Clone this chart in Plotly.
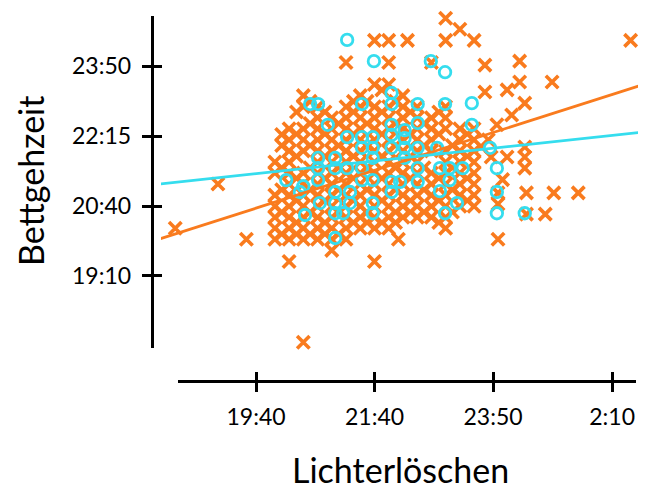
import plotly.graph_objects as go

ORANGE = "#F97B1E"
CYAN = "#35DDEE"
FONT = "Lato"

# ---- tick labels (values in decimal hours) ----
x_tick_vals = [19.67, 21.75, 23.83, 25.92]
x_tick_text = ["19:40", "21:40", "23:50", "2:10"]
y_tick_vals = [19.17, 20.75, 22.33, 23.92]
y_tick_text = ["19:10", "20:40", "22:15", "23:50"]

# ---- orange series (x markers): lights-out hour -> list of bedtime hours ----
orange_columns = {
    20.00: [20.0, 20.25, 20.5, 20.75, 21.0, 21.5, 21.75],
    20.25: [19.5, 20.0, 20.25, 20.5, 20.75, 21.0, 21.25, 21.5, 21.75, 22.0, 22.25, 22.5],
    20.50: [17.67, 20.0, 20.25, 20.5, 20.75, 21.0, 21.25, 21.5, 22.0, 22.25, 22.5, 23.0, 23.25],
    20.75: [20.0, 20.25, 20.5, 20.75, 21.0, 21.25, 21.5, 21.75, 22.0, 22.25, 22.5, 22.75, 23.0],
    21.00: [19.75, 20.0, 20.25, 20.5, 20.75, 21.0, 21.25, 21.5, 21.75, 22.0, 22.25, 22.5, 22.75],
    21.25: [20.0, 20.25, 20.5, 20.75, 21.0, 21.25, 21.5, 21.75, 22.0, 22.25, 22.5, 22.75, 23.0, 24.0],
    21.50: [20.25, 20.5, 20.75, 21.0, 21.25, 21.5, 21.75, 22.0, 22.25, 22.5, 22.75, 23.0, 23.25],
    21.75: [19.5, 20.25, 20.5, 20.75, 21.0, 21.25, 21.5, 21.75, 22.0, 22.25, 22.5, 22.75, 23.0, 23.5, 24.5],
    22.00: [20.25, 20.5, 20.75, 21.0, 21.25, 21.5, 21.75, 22.0, 22.25, 22.5, 22.75, 23.0, 23.5, 24.0, 24.5],
    22.25: [20.5, 20.75, 21.0, 21.25, 21.5, 21.75, 22.0, 22.25, 22.5, 22.75, 23.0, 23.25],
    22.50: [20.5, 20.75, 21.0, 21.25, 21.5, 21.75, 22.0, 22.25, 22.5, 22.75, 23.0],
    22.75: [20.5, 20.75, 21.0, 21.25, 21.5, 22.0, 22.25, 22.5, 22.75, 24.0],
    23.00: [20.25, 20.5, 20.75, 21.0, 21.25, 21.5, 21.75, 22.0, 22.5, 22.75, 23.0, 24.5, 25.0],
    23.25: [20.75, 21.0, 21.25, 21.5, 21.75, 22.0, 22.25, 22.5, 24.75],
    23.50: [20.75, 21.0, 21.25, 21.5, 21.75, 22.0, 22.25, 22.5, 24.5],
}
# in-between readings (5-10 min resolution) inside the dense cloud
orange_between = {
    20.12: [20.12, 20.62, 21.12, 21.62, 22.12, 22.37],
    20.38: [20.12, 20.38, 20.88, 21.38, 21.88, 22.38, 22.88],
    20.62: [20.12, 20.62, 21.12, 21.62, 22.12, 22.62, 23.12],
    20.88: [20.12, 20.38, 20.88, 21.38, 21.88, 22.38, 22.88],
    21.12: [20.12, 20.62, 21.12, 21.62, 22.12, 22.62],
    21.38: [20.38, 20.88, 21.38, 21.88, 22.38, 22.88, 23.12],
    21.62: [20.38, 20.62, 21.12, 21.62, 22.12, 22.62, 23.12],
    21.88: [20.38, 20.88, 21.38, 21.88, 22.38, 22.88, 23.38],
    22.12: [20.38, 20.62, 21.12, 21.62, 22.12, 22.62, 23.12],
    22.38: [20.62, 20.88, 21.38, 21.88, 22.38, 22.88],
    22.62: [20.62, 21.12, 21.62, 22.12, 22.62],
    22.88: [20.38, 20.88, 21.38, 22.38, 22.88],
    23.12: [20.62, 21.12, 21.62, 22.12],
    23.38: [20.88, 21.38, 21.88, 22.38],
}
orange_extra_x = [18.25, 19.0, 19.5, 22.17, 22.33, 26.25,
                  23.69, 24.30, 24.30, 24.87, 23.69, 24.08, 24.39, 24.16, 23.90,
                  23.75, 24.39, 24.39, 24.39, 24.08, 23.80, 23.62, 24.00,
                  23.92, 23.92, 24.42, 24.90, 25.33, 24.42, 24.75, 23.92]
orange_extra_y = [20.25, 21.25, 20.0, 20.0, 24.5, 24.5,
                  23.94, 24.03, 23.56, 23.56, 23.33, 23.38, 23.08, 22.81, 22.59,
                  22.25, 22.09, 21.86, 21.61, 21.86, 21.86, 22.10, 21.35,
                  21.05, 20.80, 21.05, 21.05, 21.05, 20.57, 20.57, 20.0]

# ---- cyan series (open circles) ----
cyan_x = [21.27, 21.74, 22.74, 22.99, 22.05, 22.05, 22.51, 22.99, 23.46, 20.62,
          20.76, 21.53, 22.05, 22.51, 23.46, 20.93, 22.05, 22.28, 22.28, 21.27,
          21.53, 21.72, 22.05, 22.28, 22.51, 22.85, 23.78, 21.53, 21.72, 20.76,
          21.06, 20.76, 21.06, 21.27, 21.53, 22.51, 22.90, 23.07, 23.30, 23.90,
          20.20, 20.76, 21.53, 21.72, 22.05, 22.20, 22.51, 23.07, 21.06, 21.32,
          22.05, 22.90, 23.90, 20.44, 20.79, 21.06, 21.32, 21.72, 23.20, 20.53,
          21.06, 21.20, 21.72, 22.99, 23.90, 24.39, 21.06, 22.28, 21.72, 20.50]
cyan_y = [24.51, 24.03, 24.03, 23.78, 23.31, 23.06, 23.06, 23.06, 23.08, 23.06,
          23.06, 23.06, 22.59, 22.63, 22.59, 22.59, 22.36, 22.47, 22.29, 22.31,
          22.31, 22.31, 22.07, 22.07, 22.07, 22.07, 22.07, 22.07, 22.07, 21.84,
          21.84, 21.61, 21.61, 21.61, 21.61, 21.61, 21.61, 21.61, 21.61, 21.61,
          21.34, 21.34, 21.34, 21.34, 21.30, 21.30, 21.30, 21.34, 21.07, 21.07,
          21.07, 21.09, 21.07, 21.07, 20.82, 20.82, 20.82, 20.82, 20.82, 20.55,
          20.59, 20.59, 20.59, 20.59, 20.59, 20.59, 20.03, 21.84, 21.84, 21.20]

# ---- linear fits (intercept, slope), bedtime ~ lights-out ----
fit_orange = (12.62, 0.411)
fit_cyan = (18.76, 0.1385)
fit_x_range = [17.9, 26.7]

orange_x, orange_y = [], []
for cols in (orange_columns, orange_between):
    for xv, ys in cols.items():
        for yv in ys:
            orange_x.append(xv)
            orange_y.append(yv)
orange_x += orange_extra_x
orange_y += orange_extra_y

fig = go.Figure()
fig.add_trace(go.Scatter(
    x=orange_x, y=orange_y, mode="markers", cliponaxis=False,
    marker=dict(symbol="x-thin", size=12.5, color=ORANGE,
                line=dict(width=3.6, color=ORANGE)),
    showlegend=False, hoverinfo="skip"))
fig.add_trace(go.Scatter(
    x=cyan_x, y=cyan_y, mode="markers", cliponaxis=False,
    marker=dict(symbol="circle-open", size=11.5, color=CYAN,
                line=dict(width=2.8, color=CYAN)),
    showlegend=False, hoverinfo="skip"))
for (a, b), col in [(fit_orange, ORANGE), (fit_cyan, CYAN)]:
    fig.add_trace(go.Scatter(
        x=fit_x_range, y=[a + b * v for v in fit_x_range], mode="lines",
        line=dict(color=col, width=2.8), showlegend=False, hoverinfo="skip"))

# invisible traces so the detached display axes get drawn
fig.add_trace(go.Scatter(x=[None], y=[None], xaxis="x2", yaxis="y2",
                         showlegend=False, hoverinfo="skip"))
fig.add_trace(go.Scatter(x=[None], y=[None], xaxis="x3", yaxis="y3",
                         showlegend=False, hoverinfo="skip"))

# page body has an 8px margin: figure placed at (8, 8)
OX, OY = 8, 8
W, H = 638, 482


def fx(px):
    return (px - OX) / W


def fy(py):
    return 1 - (py - OY) / H


xr2 = [18.301, 26.339]
yr2 = [17.541, 25.051]
tickfont = dict(family=FONT, size=23, color="black")
common = dict(showgrid=False, zeroline=False, anchor="free")

fig.update_layout(
    width=W, height=H,
    margin=dict(l=0, r=0, t=0, b=0),
    paper_bgcolor="white", plot_bgcolor="rgba(0,0,0,0)",
    xaxis=dict(domain=[fx(161), 1], range=[18.0, 26.52], visible=False, anchor="y"),
    yaxis=dict(domain=[fy(380), 1], range=[16.818, 25.232], visible=False, anchor="x"),
    xaxis2=dict(domain=[fx(178), fx(636)], range=xr2, position=fy(380.5),
                showline=True, linewidth=3, linecolor="black",
                ticks="outside", ticklen=9, tickwidth=2.5, tickcolor="black",
                tickvals=x_tick_vals, ticktext=x_tick_text, tickfont=tickfont,
                ticklabelstandoff=6, **common),
    yaxis2=dict(domain=[fy(348), fy(16)], range=yr2, position=fx(151.7),
                showline=True, linewidth=3, linecolor="black",
                ticks="outside", ticklen=9, tickwidth=2.5, tickcolor="black",
                tickvals=y_tick_vals, ticktext=y_tick_text, tickfont=tickfont,
                ticklabelstandoff=6, **common),
    xaxis3=dict(overlaying="x2", range=xr2, position=fy(380.5),
                ticks="inside", ticklen=9, tickwidth=2.5, tickcolor="black",
                tickvals=x_tick_vals, showticklabels=False, showline=False, **common),
    yaxis3=dict(overlaying="y2", range=yr2, position=fx(151.7),
                ticks="inside", ticklen=9, tickwidth=2.5, tickcolor="black",
                tickvals=y_tick_vals, showticklabels=False, showline=False, **common),
    annotations=[
        dict(text="Lichterlöschen", x=fx(400), y=fy(469), xref="paper", yref="paper",
             xanchor="center", yanchor="middle", showarrow=False,
             font=dict(family=FONT, size=34, color="black")),
        dict(text="Bettgehzeit", x=fx(30), y=fy(181), xref="paper", yref="paper",
             xanchor="center", yanchor="middle", showarrow=False, textangle=-90,
             font=dict(family=FONT, size=34, color="black")),
    ],
)

fig.write_html("out.html")
